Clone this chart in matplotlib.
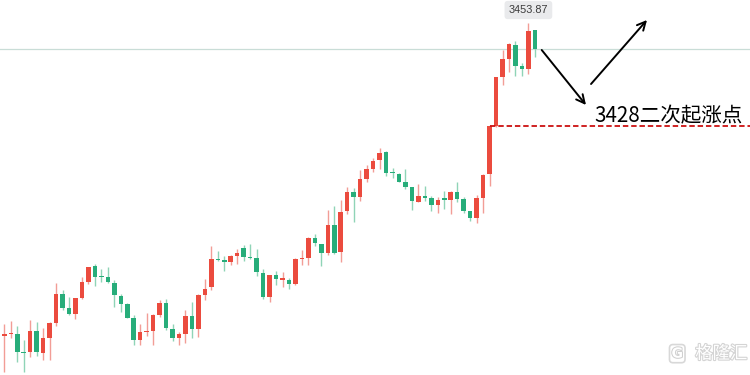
import matplotlib
matplotlib.use("Agg")
import matplotlib.pyplot as plt
import matplotlib.patheffects as pe
import numpy as np

# OHLC data (price values)
opens = [3375.5, 3376.0, 3376.0, 3371.5, 3371.5, 3376.75, 3371.25, 3375.0, 3378.75, 3386.0,
         3382.5, 3381.0, 3385.0, 3389.0, 3393.0, 3390.5, 3390.25, 3388.75, 3385.5, 3383.5,
         3380.0, 3374.5, 3376.5, 3376.75, 3380.75, 3383.75, 3377.25, 3375.0, 3376.0, 3380.5,
         3377.25, 3385.75, 3387.75, 3394.75, 3394.5, 3394.0, 3395.5, 3397.5, 3395.25, 3395.0,
         3391.25, 3385.25, 3390.75, 3389.6, 3389.5, 3388.5, 3394.75, 3395.0, 3400.0, 3398.5,
         3396.25, 3403.25, 3396.5, 3406.75, 3411.5, 3410.25, 3414.75, 3417.25, 3419.5, 3421.5,
         3416.5, 3416.0, 3414.0, 3412.75, 3409.0, 3410.4, 3410.0, 3408.25, 3409.9, 3409.5,
         3411.5, 3409.75, 3406.75, 3405.0, 3410.0, 3416.0, 3428.0, 3440.25, 3444.75, 3448.25,
         3443.0, 3442.25, 3452.0]
highs = [3378.5, 3379.25, 3378.0, 3374.5, 3379.5, 3379.0, 3377.5, 3379.0, 3388.75, 3387.0,
         3385.25, 3385.0, 3390.25, 3392.75, 3393.5, 3392.25, 3392.75, 3389.5, 3386.0, 3383.75,
         3380.75, 3378.5, 3381.25, 3381.0, 3384.5, 3384.75, 3378.5, 3376.5, 3382.0, 3384.0,
         3386.0, 3389.75, 3398.0, 3396.75, 3395.5, 3395.75, 3397.25, 3398.25, 3398.5, 3397.25,
         3392.25, 3390.75, 3391.75, 3391.5, 3390.0, 3395.0, 3397.0, 3400.25, 3401.0, 3398.5,
         3407.0, 3408.0, 3409.5, 3412.75, 3412.5, 3417.0, 3418.25, 3420.0, 3422.5, 3421.75,
         3417.5, 3416.25, 3417.25, 3412.75, 3413.5, 3413.0, 3410.5, 3410.25, 3411.75, 3411.75,
         3414.0, 3410.25, 3406.75, 3410.75, 3416.0, 3428.25, 3440.25, 3447.0, 3448.75, 3449.25,
         3443.75, 3453.87, 3452.0]
lows = [3366.5, 3375.0, 3369.0, 3366.5, 3370.25, 3370.5, 3369.5, 3369.5, 3378.0, 3382.0,
        3380.75, 3379.75, 3384.75, 3388.5, 3388.0, 3389.0, 3388.75, 3382.75, 3381.5, 3380.0,
        3373.25, 3373.25, 3375.5, 3373.25, 3380.25, 3377.0, 3374.25, 3373.25, 3373.75, 3375.0,
        3375.25, 3384.5, 3387.0, 3394.25, 3391.75, 3393.25, 3393.5, 3394.25, 3394.75, 3390.5,
        3384.75, 3384.0, 3388.25, 3387.75, 3387.25, 3388.25, 3393.25, 3393.25, 3398.0, 3393.0,
        3395.75, 3396.0, 3394.0, 3406.0, 3404.0, 3409.25, 3414.0, 3416.5, 3417.25, 3415.5,
        3415.0, 3414.0, 3412.25, 3407.0, 3409.0, 3409.25, 3406.75, 3406.25, 3407.25, 3406.0,
        3409.0, 3406.25, 3404.25, 3403.75, 3406.25, 3413.0, 3427.75, 3438.25, 3441.5, 3440.5,
        3440.5, 3441.0, 3445.25]
closes = [3376.0, 3376.25, 3371.5, 3371.25, 3376.75, 3371.5, 3375.0, 3378.75, 3386.0, 3382.5,
          3381.0, 3385.0, 3389.0, 3392.75, 3390.25, 3390.25, 3389.0, 3385.75, 3383.5, 3380.0,
          3374.5, 3376.5, 3376.8, 3380.75, 3383.75, 3377.5, 3375.0, 3376.0, 3380.5, 3377.25,
          3385.75, 3387.25, 3394.75, 3394.5, 3394.0, 3395.5, 3396.25, 3395.25, 3395.0, 3391.5,
          3385.25, 3390.75, 3389.75, 3389.8, 3388.5, 3394.75, 3395.0, 3400.0, 3398.75, 3396.25,
          3403.25, 3396.25, 3406.5, 3411.5, 3410.25, 3414.75, 3417.25, 3419.25, 3421.25, 3416.25,
          3416.25, 3414.0, 3412.75, 3409.25, 3410.5, 3410.1, 3408.25, 3409.5, 3409.6, 3411.5,
          3409.75, 3406.75, 3405.0, 3410.0, 3415.75, 3428.0, 3440.25, 3444.75, 3448.5, 3443.0,
          3442.25, 3451.75, 3447.25]

key_level = 3428.0
key_label = "3428二次起涨点"
watermark = "格隆汇"

UP = "#eb4b3e"
DOWN = "#27ad7a"
UP_WICK = "#f29d96"
DOWN_WICK = "#8fd4b7"

o = np.array(opens); h = np.array(highs); l = np.array(lows); c = np.array(closes)
x = np.arange(len(o))
up = c >= o

fig = plt.figure(figsize=(7.5, 3.75), dpi=100)
ax = fig.add_axes([0, 0, 1, 1])
ax.set_xlim(-0.665, 115.25)
ax.set_ylim(3365.75, 3459.5)
ax.axis("off")

# current price line
ax.axhline(c[-1], color="#c9ddd7", lw=0.9, zorder=1)

# wicks
ax.vlines(x[up], l[up], h[up], color=UP_WICK, lw=1.0, zorder=2)
ax.vlines(x[~up], l[~up], h[~up], color=DOWN_WICK, lw=1.0, zorder=2)

# bodies
heights = np.maximum(np.abs(c - o), 0.3)
bottoms = np.minimum(o, c)
ax.bar(x[up], heights[up], bottom=bottoms[up], width=0.7, color=UP, lw=0, zorder=3)
ax.bar(x[~up], heights[~up], bottom=bottoms[~up], width=0.7, color=DOWN, lw=0, zorder=3)

# key level dashed line
ax.plot([75, 115.25], [key_level, key_level], color="#cc1010", lw=1.3,
        ls=(0, (3, 1.6)), zorder=4, solid_capstyle="butt")

# max label
imax = int(np.argmax(h))
ax.annotate(f"{h[imax]:.2f}", xy=(imax, h[imax]), xytext=(0, 12.5), textcoords="offset pixels",
            ha="center", va="center", fontsize=7.8, color="#3a3a3a", family="Liberation Sans",
            bbox=dict(boxstyle="round,pad=0.38,rounding_size=0.3", fc="#e9eaec", ec="none"),
            zorder=6)

# arrows
arrow_kw = dict(arrowstyle="->,head_length=0.6,head_width=0.3", color="black", lw=1.4,
                shrinkA=0, shrinkB=0)
ax.annotate("", xy=(89.9, 3433.25), xytext=(83.06, 3447.0), arrowprops=arrow_kw, zorder=5)
ax.annotate("", xy=(99.33, 3454.5), xytext=(90.68, 3438.5), arrowprops=arrow_kw, zorder=5)

# key level text
ax.text(91.2, key_level + 1.0, key_label, fontsize=14.8, color="black",
        family=["Noto Sans CJK SC", "DejaVu Sans"], ha="left", va="baseline", zorder=6)

# watermark
ax.text(0.903, 0.057, "G", transform=ax.transAxes, fontsize=10, color="white",
        family="DejaVu Sans", fontweight="bold", ha="center", va="center",
        bbox=dict(boxstyle="round,pad=0.15,rounding_size=0.25", fc="white", ec="#d8d8d8", lw=1.2),
        path_effects=[pe.withStroke(linewidth=1.5, foreground="#d0d0d0")], zorder=6)
ax.text(0.927, 0.057, watermark, transform=ax.transAxes, fontsize=12.5, color="white",
        family=["Noto Sans CJK SC", "DejaVu Sans"], ha="left", va="center",
        path_effects=[pe.withStroke(linewidth=1.6, foreground="#d4d4d4")], zorder=6)

fig.savefig("out.png", dpi=100)
